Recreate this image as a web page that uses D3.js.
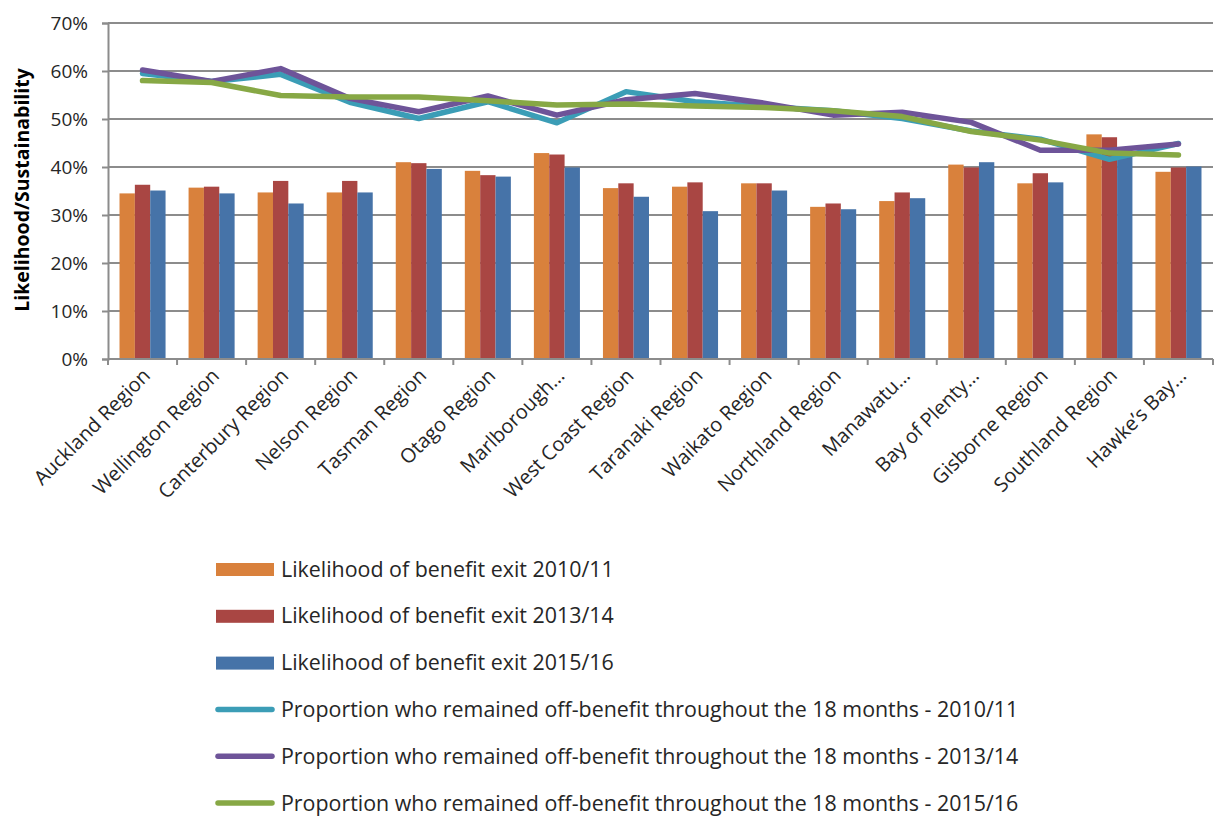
<!DOCTYPE html>
<html>
<head>
<meta charset="utf-8">
<script src="https://cdn.jsdelivr.net/npm/d3@7"></script>
<style>
  html, body { margin: 0; padding: 0; background: #fff; }
  svg { display: block; font-family: "Open Sans", "Noto Sans", sans-serif; }
</style>
</head>
<body>
<svg id="chart" width="1221" height="817"></svg>
<script>
// Regions along the x axis
const categories = [
  "Auckland Region", "Wellington Region", "Canterbury Region", "Nelson Region",
  "Tasman Region", "Otago Region", "Marlborough…", "West Coast Region",
  "Taranaki Region", "Waikato Region", "Northland Region", "Manawatu…",
  "Bay of Plenty…", "Gisborne Region", "Southland Region", "Hawke’s Bay…"
];

// Likelihood of benefit exit (%), bars
const exit2010 = [34.5, 35.7, 34.7, 34.7, 41.0, 39.2, 42.9, 35.6, 35.9, 36.6, 31.7, 32.9, 40.5, 36.6, 46.8, 39.0];
const exit2013 = [36.3, 35.9, 37.1, 37.1, 40.8, 38.3, 42.6, 36.6, 36.8, 36.6, 32.4, 34.7, 39.9, 38.7, 46.2, 39.9];
const exit2015 = [35.1, 34.5, 32.4, 34.7, 39.6, 38.0, 39.9, 33.8, 30.8, 35.1, 31.2, 33.5, 41.0, 36.8, 43.0, 40.1];

// Proportion who remained off-benefit throughout the 18 months (%), lines
const off2010 = [59.5, 57.8, 59.3, 53.5, 50.1, 53.6, 49.2, 55.7, 53.6, 52.6, 51.7, 50.1, 47.5, 45.8, 41.6, 44.9];
const off2013 = [60.2, 57.8, 60.5, 54.3, 51.5, 54.8, 50.8, 54.0, 55.3, 53.3, 50.8, 51.4, 49.3, 43.5, 43.5, 44.8];
const off2015 = [58.0, 57.6, 54.9, 54.6, 54.6, 53.8, 52.9, 53.1, 52.7, 52.4, 51.7, 50.5, 47.4, 45.6, 42.9, 42.5];

const yTicks = [0, 10, 20, 30, 40, 50, 60, 70];

const barSeries = [
  { name: "Likelihood of benefit exit 2010/11", values: exit2010, color: "#d9813c" },
  { name: "Likelihood of benefit exit 2013/14", values: exit2013, color: "#a94643" },
  { name: "Likelihood of benefit exit 2015/16", values: exit2015, color: "#4673a8" }
];
const lineSeries = [
  { name: "Proportion who remained off-benefit throughout the 18 months - 2010/11", values: off2010, color: "#3b9db6" },
  { name: "Proportion who remained off-benefit throughout the 18 months - 2013/14", values: off2013, color: "#6e5499" },
  { name: "Proportion who remained off-benefit throughout the 18 months - 2015/16", values: off2015, color: "#87a845" }
];

const svg = d3.select("#chart");
const plotLeft = 108, plotRight = 1213, plotTop = 23, plotBottom = 359;
const gridColor = "#8c8c8c";
const textColor = "#262626";

const x = d3.scaleBand().domain(categories).range([plotLeft, plotRight])
  .paddingInner(1.5 / 4.5).paddingOuter(0.75 / 4.5);
const x1 = d3.scaleBand().domain(d3.range(barSeries.length)).range([0, x.bandwidth()]);
const y = d3.scaleLinear().domain([0, 70]).range([plotBottom, plotTop]);

// Horizontal gridlines
svg.append("g").selectAll("line").data(yTicks.filter(t => t > 0)).join("line")
  .attr("x1", plotLeft).attr("x2", plotRight)
  .attr("y1", d => y(d)).attr("y2", d => y(d))
  .attr("stroke", gridColor).attr("stroke-width", 2);

// Y axis
const yAxis = svg.append("g").attr("transform", `translate(${plotLeft},0)`)
  .call(d3.axisLeft(y).tickValues(yTicks).tickFormat(d => d + "%").tickSize(6).tickPadding(14));
yAxis.select(".domain").attr("stroke", gridColor).attr("stroke-width", 2);
yAxis.selectAll(".tick line").attr("stroke", gridColor).attr("stroke-width", 2);
yAxis.selectAll(".tick text").attr("font-size", 19).attr("fill", textColor)
  .attr("font-family", "'Open Sans', sans-serif");

// Bars
const groups = svg.append("g").selectAll("g").data(categories).join("g")
  .attr("transform", d => `translate(${x(d)},0)`);
groups.selectAll("rect").data((d, i) => barSeries.map((s, k) => ({ k, v: s.values[i], color: s.color })))
  .join("rect")
  .attr("x", d => x1(d.k)).attr("width", x1.bandwidth())
  .attr("y", d => y(d.v)).attr("height", d => y(0) - y(d.v))
  .attr("fill", d => d.color);

// X axis with ticks between categories
const step = x.step();
const xAxisG = svg.append("g");
xAxisG.append("line").attr("x1", plotLeft).attr("x2", plotRight).attr("y1", plotBottom).attr("y2", plotBottom)
  .attr("stroke", gridColor).attr("stroke-width", 2);
xAxisG.selectAll("line.tk").data(d3.range(categories.length + 1)).join("line")
  .attr("class", "tk")
  .attr("x1", i => plotLeft + i * step).attr("x2", i => plotLeft + i * step)
  .attr("y1", plotBottom).attr("y2", plotBottom + 6)
  .attr("stroke", gridColor).attr("stroke-width", 2);
xAxisG.selectAll("text").data(categories).join("text")
  .attr("transform", d => `translate(${x(d) + x.bandwidth() / 2 + 4},${plotBottom + 13}) rotate(-45)`)
  .attr("text-anchor", "end").attr("dy", "0.35em")
  .attr("font-size", 20).attr("fill", textColor)
  .text(d => d);

// Lines
const line = d3.line()
  .x((d, i) => x(categories[i]) + x.bandwidth() / 2)
  .y(d => y(d));
svg.append("g").selectAll("path").data(lineSeries).join("path")
  .attr("d", d => line(d.values))
  .attr("fill", "none").attr("stroke", d => d.color)
  .attr("stroke-width", 5.5).attr("stroke-linejoin", "round").attr("stroke-linecap", "round");

// Y axis title
svg.append("text")
  .attr("transform", `translate(22,190) rotate(-90)`)
  .attr("text-anchor", "middle").attr("dy", "0.35em")
  .attr("font-size", 19.5).attr("font-weight", "bold")
  .attr("fill", "#000").text("Likelihood/Sustainability");

// Legend
const legendItems = barSeries.map(s => ({ ...s, type: "bar" }))
  .concat(lineSeries.map(s => ({ ...s, type: "line" })));
const lg = svg.append("g").selectAll("g").data(legendItems).join("g")
  .attr("transform", (d, i) => `translate(216,${569 + i * 46.8})`);
lg.filter(d => d.type === "bar").append("rect")
  .attr("x", 0).attr("y", -6).attr("width", 58).attr("height", 13).attr("fill", d => d.color);
lg.filter(d => d.type === "line").append("line")
  .attr("x1", 2).attr("x2", 56).attr("y1", 0).attr("y2", 0)
  .attr("stroke", d => d.color).attr("stroke-width", 5.5).attr("stroke-linecap", "round");
lg.append("text").attr("x", 65).attr("dy", "0.35em")
  .attr("font-size", 21.4).attr("fill", textColor).text(d => d.name);
</script>
</body>
</html>
